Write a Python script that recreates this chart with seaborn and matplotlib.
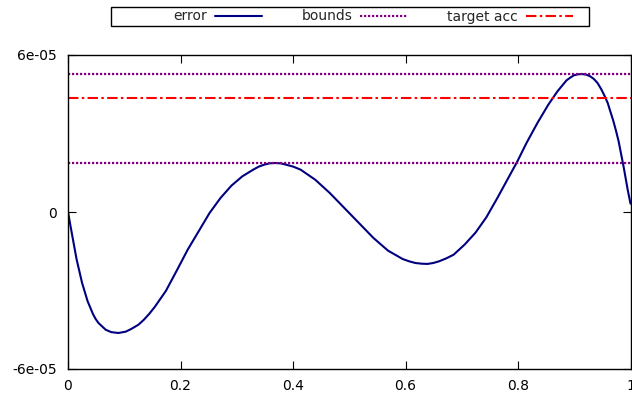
import numpy as np
import pandas as pd
import matplotlib
matplotlib.use("Agg")
import matplotlib.pyplot as plt
from matplotlib.patches import Rectangle
import seaborn as sns

# ---- data ----
x_vals = [0.0, 0.0055, 0.0152, 0.0249, 0.0347, 0.0444, 0.0489, 0.0541, 0.0670,
          0.0767, 0.0897, 0.1026, 0.1124, 0.1253, 0.1350, 0.1447, 0.1545, 0.1739,
          0.1933, 0.2128, 0.2322, 0.2516, 0.2711, 0.2905, 0.3099, 0.3293, 0.3390,
          0.3488, 0.3585, 0.3682, 0.3779, 0.3876, 0.4005, 0.4135, 0.4394, 0.4654,
          0.4913, 0.5172, 0.5431, 0.5690, 0.5949, 0.6065, 0.6176, 0.6285, 0.6389,
          0.6493, 0.6596, 0.6726, 0.6856, 0.7050, 0.7244, 0.7438, 0.7633, 0.7827,
          0.7989, 0.8151, 0.8345, 0.8539, 0.8701, 0.8863, 0.8928, 0.8992, 0.9064,
          0.9135, 0.9213, 0.9284, 0.9349, 0.9414, 0.9478, 0.9543, 0.9595, 0.9641,
          0.9692, 0.9738, 0.9789, 0.9835, 0.9880, 0.9913, 0.9951, 1.0]
error_e5 = [0.0, -0.66, -1.80, -2.70, -3.40, -3.90, -4.08, -4.24, -4.50,
            -4.59, -4.624, -4.573, -4.47, -4.306, -4.115, -3.885, -3.62, -3.02,
            -2.24, -1.44, -0.74, -0.04, 0.535, 1.006, 1.363, 1.618, 1.733,
            1.809, 1.86, 1.873, 1.86, 1.809, 1.733, 1.618, 1.236, 0.726,
            0.153, -0.42, -0.994, -1.478, -1.796, -1.885, -1.949, -1.975, -1.985,
            -1.949, -1.885, -1.771, -1.631, -1.248, -0.79, -0.20, 0.535, 1.299,
            1.936, 2.637, 3.401, 4.102, 4.611, 5.032, 5.134, 5.223, 5.261,
            5.274, 5.249, 5.185, 5.083, 4.93, 4.70, 4.42, 4.166, 3.847,
            3.50, 3.14, 2.70, 2.191, 1.70, 1.30, 0.84, 0.318]
error_vals = [v * 1e-5 for v in error_e5]
bound_upper = 5.27e-5
bound_lower = 1.87e-5
target_acc = 4.36e-5
x_ticks = [0, 0.2, 0.4, 0.6, 0.8, 1]
x_ticklabels = ["0", "0.2", "0.4", "0.6", "0.8", "1"]
y_ticks = [-6e-5, 0, 6e-5]
y_ticklabels = ["-6e-05", "0", "6e-05"]

df = pd.DataFrame({"x": x_vals, "error": error_vals})

sns.set_style("ticks")
plt.rcParams["font.family"] = ["DejaVu Sans"]
plt.rcParams["font.size"] = 10

W, H = 632, 396
fig = plt.figure(figsize=(W / 100, H / 100), dpi=100)
ax = fig.add_axes([68 / W, 27 / H, 562.5 / W, 314 / H])

navy = "#000080"
purple = "#800080"
red = "#ff0000"

sns.lineplot(data=df, x="x", y="error", ax=ax, color=navy, linewidth=1.5,
             label="error", legend=False)
ax.axhline(bound_upper, color=purple, linewidth=1.6, linestyle=(0, (1.0, 0.8)),
           label="bounds")
ax.axhline(bound_lower, color=purple, linewidth=1.6, linestyle=(0, (1.0, 0.8)))
ax.axhline(target_acc, color=red, linewidth=1.5,
           linestyle=(0, (5, 1.6, 1.2, 1.6)), label="target acc")

ax.set_xlim(0, 1)
ax.set_ylim(-6e-5, 6e-5)
ax.set_xticks(x_ticks)
ax.set_xticklabels(x_ticklabels)
ax.set_yticks(y_ticks)
ax.set_yticklabels(y_ticklabels)
ax.set_xlabel("")
ax.set_ylabel("")
ax.tick_params(direction="in", length=5.5, width=0.8, top=True, right=True,
               labelsize=10, colors="black")
ax.tick_params(axis="y", pad=8)
ax.tick_params(axis="x", pad=7)
for s in ax.spines.values():
    s.set_visible(True)
    s.set_color("black")
    s.set_linewidth(1.0)

# legend (gnuplot style: text then sample), boxed across the top
handles, labels = ax.get_legend_handles_labels()
leg = fig.legend(handles, labels, ncol=3, markerfirst=False, frameon=False,
                 loc="center", bbox_to_anchor=((166 + 580) / 2 / W, 1 - 16.5 / H),
                 handlelength=3.4, handletextpad=0.6, columnspacing=2.8,
                 fontsize=10, borderpad=0.0)
fig.add_artist(Rectangle((111 / W, 1 - 26 / H), (589 - 111) / W, 19 / H,
                         transform=fig.transFigure, fill=False,
                         edgecolor="black", linewidth=1.0))

fig.savefig("out.png", dpi=100)
